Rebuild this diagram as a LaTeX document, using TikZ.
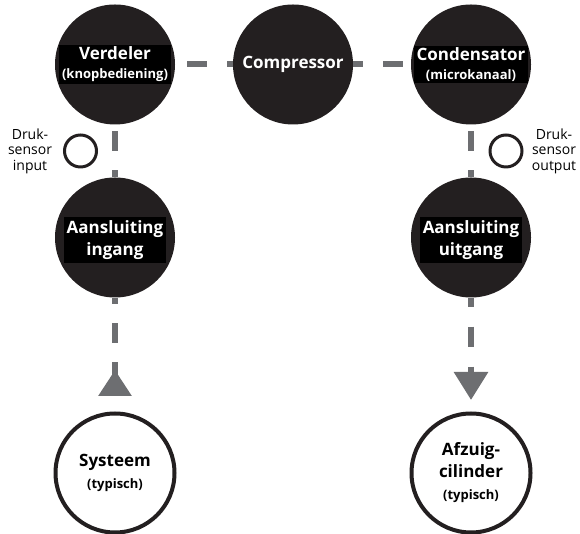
\documentclass[tikz,border=0pt]{standalone}
\usepackage{fontspec}
\setmainfont{Open Sans}
\usepackage{tikz}
\usetikzlibrary{arrows.meta}

\definecolor{cdark}{HTML}{231F20}
\definecolor{cgray}{HTML}{6D6E71}

\newcommand{\hd}{\fontsize{17}{22}\selectfont\bfseries}
\newcommand{\sbt}{\fontsize{13}{16}\selectfont\bfseries}

\begin{document}
\begin{tikzpicture}[x=1pt,y=1pt,node distance=178pt,
    hub/.style={circle,fill=cdark,text=white,minimum size=120pt,inner sep=0pt,font=\hd},
    tag/.style={fill=black,text=white,inner xsep=3pt,inner ysep=1.5pt,align=center,font=\hd},
    port/.style={circle,draw=cdark,fill=white,line width=4pt,minimum size=119pt,inner sep=0pt,align=center,font=\hd},
    sensor/.style={circle,draw=cdark,fill=white,line width=3pt,minimum size=32pt,inner sep=0pt},
    note/.style={align=center,font=\fontsize{14}{15.5}\selectfont},
    pipe/.style={draw=cgray,line width=6pt,dash pattern=on 20pt off 19pt}]

    \useasboundingbox (0,0) rectangle (580,534);

    \node[hub,label={[tag]center:{Verdeler\\[-3pt]{\sbt (knopbediening)}}}] (verdeler) at (115,469.5) {};
    \node[hub] (compressor) [right of=verdeler] {Compressor};
    \node[hub,label={[tag]center:{Condensator\\[-3pt]{\sbt (microkanaal)}}}] (condensator) [right of=compressor] {};
    \node[hub,label={[tag,inner ysep=3.5pt,yshift=-3pt]center:{Aansluiting\\ingang}}] (aingang) [below of=verdeler,node distance=173pt] {};
    \node[hub,label={[tag,inner ysep=3.5pt,yshift=-3pt]center:{Aansluiting\\uitgang}}] (auitgang) [below of=condensator,node distance=173pt] {};
    \node[port] (systeem) [below of=aingang,node distance=235.5pt] {Systeem\\{\sbt (typisch)}};
    \node[port] (afzuig) [below of=auitgang,node distance=235.5pt] {Afzuig-\\cilinder\\{\sbt (typisch)}};

    \node[sensor] (psin) at (80.5,383) {};
    \node[note] (psin-txt) at (30,383) {Druk-\\sensor\\input};
    \node[sensor] (psout) at (506,383) {};
    \node[note] (psout-txt) at (554,383) {Druk-\\sensor\\output};

    \coordinate (tipin) at (115,138);
    \coordinate (tipout) at (471,134);

    % leidingen
    \draw[pipe,dash pattern=on 20pt off 20pt,dash phase=28pt] (verdeler) -- (compressor);
    \draw[pipe,dash pattern=on 20pt off 20pt,dash phase=10pt] (compressor) -- (condensator);
    \draw[pipe,dash phase=32.5pt] (verdeler) -- (aingang);
    \draw[pipe,dash phase=32.5pt] (condensator) -- (auitgang);
    \draw[pipe,dash phase=13.5pt,-{Triangle[reversed,length=26pt,width=32pt]}] (aingang) -- (tipin);
    \draw[pipe,dash pattern=on 20pt off 20pt,dash phase=11pt,-{Triangle[length=28pt,width=33pt]}] (auitgang) -- (tipout);
\end{tikzpicture}
\end{document}
